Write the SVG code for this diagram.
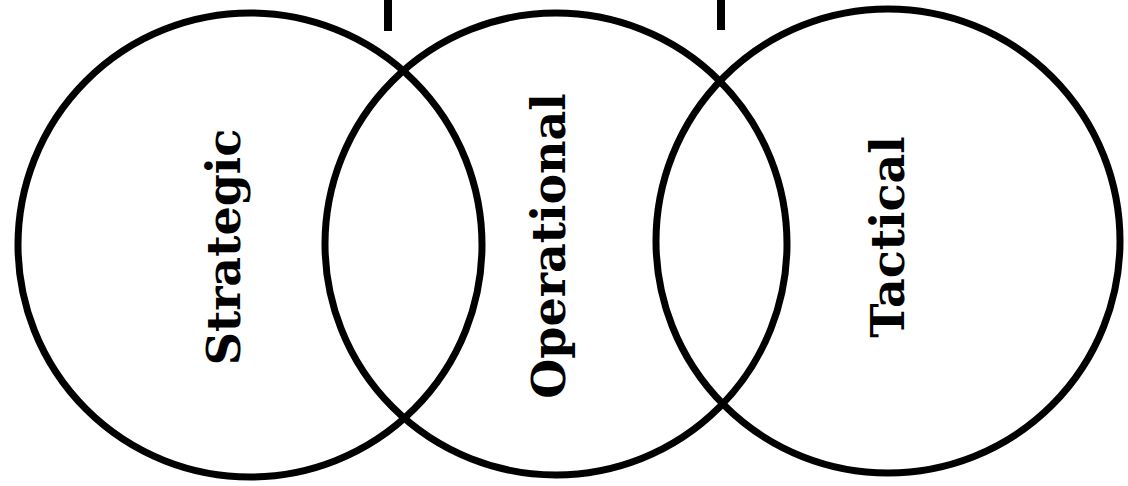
<svg xmlns="http://www.w3.org/2000/svg" width="1128" height="486" viewBox="0 0 1128 486">
<style>
.ring{fill:none;stroke:#000;stroke-width:7}
.lbl{font-family:"DejaVu Serif","Liberation Serif",serif;font-weight:bold;font-size:46px;fill:#000;text-anchor:middle}
.bar{stroke:#000;stroke-width:8}
</style>
<rect width="1128" height="486" fill="#fff"/>
<g id="bracket">
<line class="bar" x1="388" y1="0" x2="388" y2="31"/>
<line class="bar" x1="721" y1="0" x2="721" y2="30"/>
</g>
<g id="strategic">
<circle class="ring" cx="250" cy="245" r="232"/>
<text class="lbl" transform="translate(240,247) rotate(-90)">Strategic</text>
</g>
<g id="operational">
<circle class="ring" cx="556" cy="244" r="231"/>
<text class="lbl" transform="translate(565,246) rotate(-90)">Operational</text>
</g>
<g id="tactical">
<circle class="ring" cx="888" cy="241" r="232"/>
<text class="lbl" transform="translate(904,237) rotate(-90)">Tactical</text>
</g>
<g id="connectors"/>
</svg>
